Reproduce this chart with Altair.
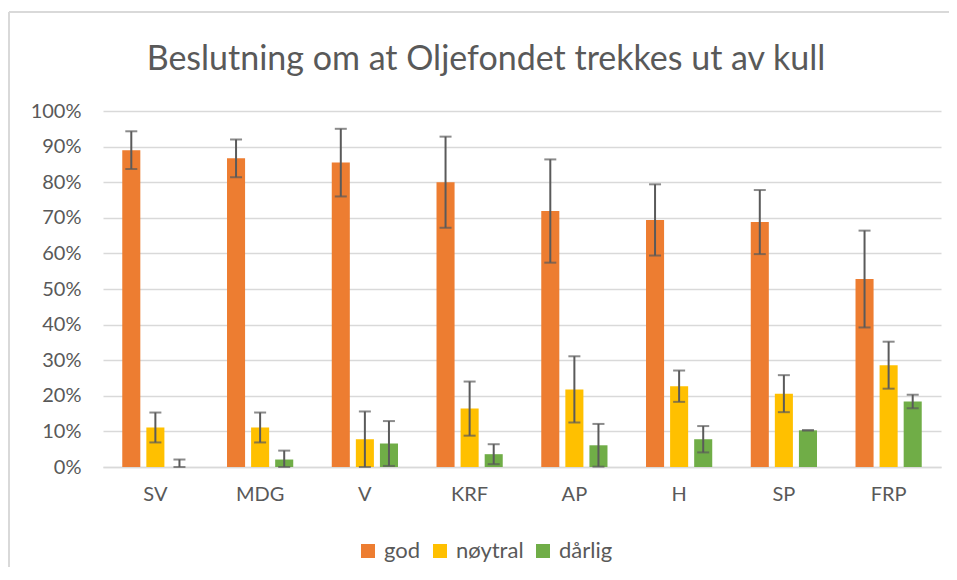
import altair as alt
import pandas as pd

parties = ["SV", "MDG", "V", "KRF", "AP", "H", "SP", "FRP"]
series = ["god", "nøytral", "dårlig"]
colors = ["#ED7D31", "#FFC000", "#70AD47"]

god = [89.0, 86.7, 85.5, 80.0, 71.9, 69.4, 68.8, 52.8]
god_err = [5.3, 5.3, 9.5, 12.8, 14.5, 10.0, 9.0, 13.6]
noytral = [11.1, 11.1, 7.8, 16.4, 21.8, 22.7, 20.6, 28.6]
noytral_err = [4.2, 4.2, 7.8, 7.6, 9.3, 4.4, 5.2, 6.6]
darlig = [0.0, 2.1, 6.6, 3.6, 6.1, 7.8, 10.3, 18.4]
darlig_err = [2.1, 2.5, 6.3, 2.8, 6.0, 3.7, 0.0, 1.9]
y_ticks = [0, 0.1, 0.2, 0.3, 0.4, 0.5, 0.6, 0.7, 0.8, 0.9, 1.0]

rows = []
for s, vals, errs in [("god", god, god_err), ("nøytral", noytral, noytral_err), ("dårlig", darlig, darlig_err)]:
    for p, v, e in zip(parties, vals, errs):
        rows.append({"parti": p, "serie": s, "verdi": v / 100,
                     "lav": max(0.0, v - e) / 100, "hoy": (v + e) / 100})
df = pd.DataFrame(rows)

FONT = "Lato"
TXT = "#595959"

x_enc = alt.X("parti:N", sort=parties, title=None,
              scale=alt.Scale(paddingInner=0, paddingOuter=0),
              axis=alt.Axis(labelAngle=0, labelFontSize=20, labelColor=TXT, labelFont=FONT,
                            labelPadding=17, ticks=False, domainColor="#D9D9D9", domainWidth=1.5))
xo_enc = alt.XOffset("serie:N", sort=series,
                     scale=alt.Scale(paddingInner=0.25, paddingOuter=0.8))

y_scale = alt.Scale(domain=[0, 1], nice=False)
y_axis = alt.Axis(format=".0%", values=y_ticks, tickCount=11,
                  labelFontSize=20, labelColor=TXT, labelFont=FONT,
                  labelPadding=22, ticks=False, domain=False, labelOverlap=False,
                  gridColor="#D9D9D9", gridWidth=1.5)


def yenc(field):
    return alt.Y(field, type="quantitative", title=None, scale=y_scale, axis=y_axis)


base = alt.Chart(df).encode(x=x_enc, xOffset=xo_enc)

bars = base.mark_bar().encode(
    y=yenc("verdi"),
    color=alt.Color("serie:N", sort=series,
                    scale=alt.Scale(domain=series, range=colors),
                    legend=alt.Legend(title=None, orient="none", direction="horizontal",
                                      legendX=254, legendY=429,
                                      symbolType="square", symbolSize=196,
                                      symbolStrokeWidth=0, symbolOpacity=1,
                                      labelFontSize=22, labelColor=TXT, labelFont=FONT,
                                      labelOffset=5, columnPadding=8)),
)

rules = base.mark_rule(color="#5A5A5A", strokeWidth=2).encode(
    y=yenc("lav"), y2="hoy:Q")

caps_hi = base.mark_tick(color="#5A5A5A", thickness=2, size=12).encode(y=yenc("hoy"))
caps_lo = base.mark_tick(color="#5A5A5A", thickness=2, size=12).encode(y=yenc("lav"))

frame_df = pd.DataFrame({"a": [0]})
border_left = alt.Chart(frame_df).mark_rule(color="#D9D9D9", strokeWidth=2, clip=False).encode(
    x=alt.value(-94), y=alt.value(-99), y2=alt.value(480))
border_top = alt.Chart(frame_df).mark_rule(color="#D9D9D9", strokeWidth=2, clip=False).encode(
    x=alt.value(-94), x2=alt.value(860), y=alt.value(-99))

chart = alt.layer(bars, rules, caps_hi, caps_lo, border_left, border_top).properties(
    width=838, height=356,
    title=alt.TitleParams("Beslutning om at Oljefondet trekkes ut av kull",
                          fontSize=34, font=FONT, color=TXT, fontWeight="normal",
                          anchor="middle", frame="bounds", offset=-66),
    autosize=alt.AutoSizeParams(type="none"),
    padding={"left": 95, "top": 103, "right": 8, "bottom": 100},
).configure_view(stroke=None).configure_axis(labelFontWeight="normal")

chart.save("out.html", embed_options={"renderer": "svg", "actions": False})
